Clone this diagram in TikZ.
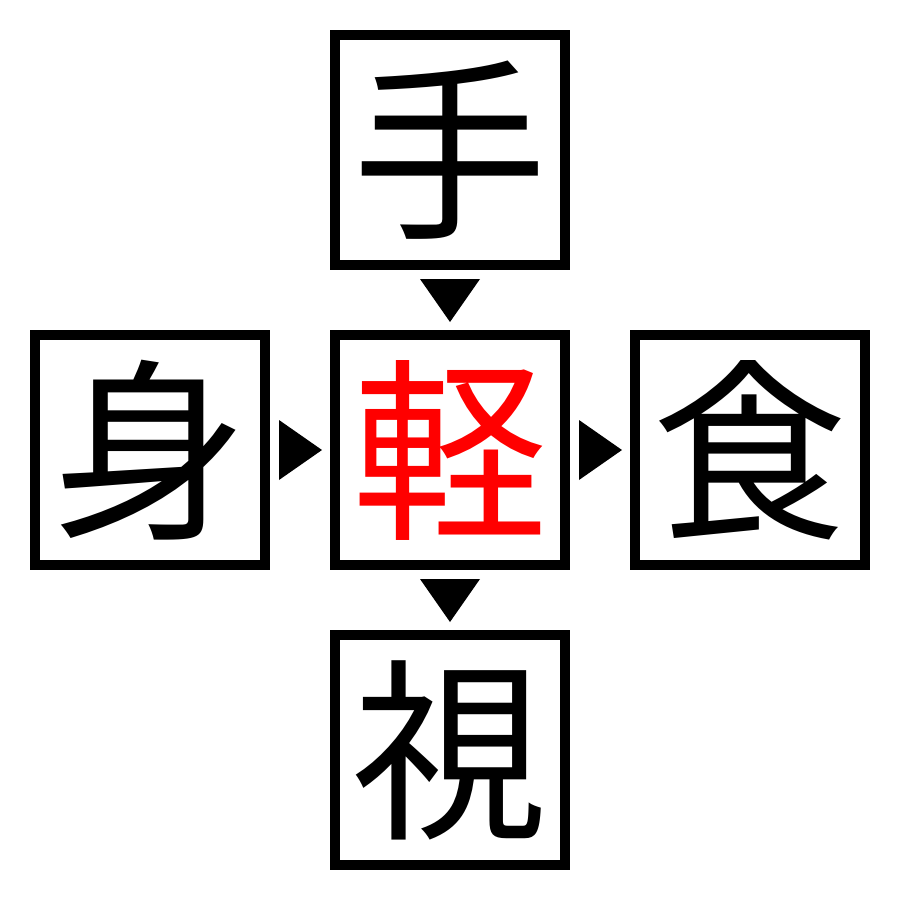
\documentclass[tikz,border=0pt]{standalone}
\usepackage{fontspec}
\usetikzlibrary{calc}
\newfontfamily\cjk{Noto Sans CJK JP}
\begin{document}
\begin{tikzpicture}[x=1pt,y=-1pt,
  kbox/.style={draw=black,line width=10pt,minimum width=230pt,minimum height=230pt,inner sep=0pt,font=\cjk\fontsize{195}{195}\selectfont},
  tri/.style={fill=black,draw=none}]
\useasboundingbox (0,0) rectangle (900,900);
\node[kbox] (top) at (450,150) {手};
\node[kbox,text=red] (mid) at (450,450) {軽};
\node[kbox] (left) at (150,450) {身};
\node[kbox] (right) at (750,450) {食};
\node[kbox] (bot) at (450,750) {視};
\coordinate (a1) at ($(top.south)!0.5!(mid.north)$);
\coordinate (a2) at ($(mid.south)!0.5!(bot.north)$);
\coordinate (a3) at ($(left.east)!0.5!(mid.west)$);
\coordinate (a4) at ($(mid.east)!0.5!(right.west)$);
\foreach \c in {a1,a2}
  \fill[tri] ($(\c)+(-30,-21)$) -- ($(\c)+(30,-21)$) -- ($(\c)+(0,22)$) -- cycle;
\foreach \c in {a3,a4}
  \fill[tri] ($(\c)+(-21,-30)$) -- ($(\c)+(-21,30)$) -- ($(\c)+(22,0)$) -- cycle;
\end{tikzpicture}
\end{document}
